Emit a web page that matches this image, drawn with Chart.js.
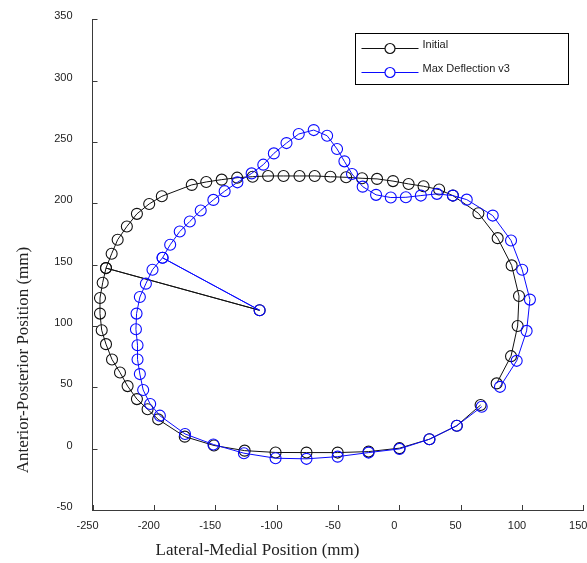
<!DOCTYPE html>
<html>
<head>
<meta charset="utf-8">
<script src="https://cdn.jsdelivr.net/npm/chart.js@4/dist/chart.umd.min.js"></script>
<style>
  html, body { margin: 0; padding: 0; background: #fff; }
  #wrap { width: 587px; height: 563px; position: relative; }
</style>
</head>
<body>
<div id="wrap"><canvas id="c" width="587" height="563"></canvas></div>
<script>
// Trace of the initial position (mm); the trace visits the centre point and returns
const initialX = [66.3, 46.9, 24.6, 0.2, -25.0, -50.2, -75.6, -100.8, -126.0, -151.0, -174.8, -196.5, -205.1, -213.8,
  -221.4, -227.6, -234.1, -239.0, -242.5, -243.9, -243.9, -241.7, -239.0, -113.8, -239.0, -234.4, -229.5, -222.0,
  -213.8, -203.8, -193.5, -169.1, -157.3, -144.7, -132.1, -119.5, -106.9, -94.3, -81.3, -68.9, -56.1, -43.3, -30.3,
  -18.1, -5.1, 7.6, 19.8, 32.5, 43.7, 64.5, 80.2, 91.6, 97.6, 96.5, 91.1, 79.4];
const initialY = [35.6, 18.7, 7.7, 0.4, -2.4, -3.2, -3.2, -3.1, -1.6, 2.6, 9.8, 23.9, 32.1, 40.4,
  51.0, 62.1, 72.7, 85.2, 96.5, 110.1, 122.8, 135.3, 147.2, 112.8, 147.2, 158.9, 170.3, 181.1,
  191.4, 199.5, 205.7, 215.0, 217.4, 219.3, 220.9, 221.7, 222.3, 222.3, 222.3, 222.3, 221.7, 221.2, 220.4,
  219.9, 218.1, 215.8, 213.9, 211.2, 206.3, 191.9, 171.6, 149.4, 124.4, 100.0, 75.4, 53.2];

// Trace at maximum deflection (mm)
const deflX = [67.2, 46.9, 24.6, 0.2, -25.0, -50.2, -75.6, -100.8, -126.6, -151.5, -174.6, -195.1, -203.0, -208.7,
  -211.4, -213.3, -213.3, -214.6, -214.1, -211.4, -206.5, -201.1, -192.9, -113.8, -192.9, -186.7, -178.9, -170.7,
  -161.8, -151.5, -142.3, -131.9, -120.3, -110.8, -102.2, -91.9, -81.9, -69.7, -58.8, -50.7, -44.7, -38.5, -29.8,
  -18.9, -6.9, 5.4, 17.6, 30.7, 43.7, 55.0, 76.2, 91.1, 100.2, 106.5, 103.8, 95.7, 82.1];
const deflY = [34.2, 18.7, 7.7, -0.2, -3.2, -6.5, -8.3, -7.8, -3.7, 3.4, 12.0, 26.9, 36.4, 47.8,
  60.8, 72.7, 84.3, 97.3, 110.1, 123.6, 134.5, 145.9, 155.6, 112.8, 155.6, 166.2, 177.0, 185.2,
  194.1, 202.8, 209.9, 217.1, 224.4, 231.5, 240.7, 249.1, 256.5, 259.7, 255.1, 244.3, 234.2, 223.9, 213.6,
  206.9, 204.7, 204.9, 206.3, 207.7, 206.3, 203.0, 190.0, 169.7, 145.9, 121.5, 96.0, 71.6, 50.4];

const seriesNames = ['Initial', 'Max Deflection v3'];
const xTicks = [-250, -200, -150, -100, -50, 0, 50, 100, 150];
const yTicks = [-50, 0, 50, 100, 150, 200, 250, 300, 350];
const xTitle = 'Lateral-Medial Position (mm)';
const yTitle = 'Anterior-Posterior Position (mm)';

const toPoints = (xs, ys) => xs.map((x, i) => ({ x: x, y: ys[i] }));

const AXIS_COLOR = '#3a3a3a';
const TEXT_COLOR = '#222';
const BLACK = '#111';
const BLUE = '#0a0aff';

// Inward tick marks, axis titles and the boxed legend
const decorations = {
  id: 'decorations',
  afterDraw(chart) {
    const ctx = chart.ctx;
    const a = chart.chartArea;
    const sx = chart.scales.x, sy = chart.scales.y;
    ctx.save();
    ctx.strokeStyle = AXIS_COLOR;
    ctx.lineWidth = 1;
    ctx.beginPath();
    xTicks.forEach(v => {
      const px = Math.round(sx.getPixelForValue(v)) + 0.5;
      ctx.moveTo(px, a.bottom);
      ctx.lineTo(px, a.bottom - 5);
    });
    yTicks.forEach(v => {
      const py = Math.round(sy.getPixelForValue(v)) + 0.5;
      ctx.moveTo(a.left, py);
      ctx.lineTo(a.left + 5, py);
    });
    ctx.stroke();

    // axis titles
    ctx.fillStyle = TEXT_COLOR;
    ctx.font = '17px "Liberation Serif", "Times New Roman", serif';
    ctx.textAlign = 'center';
    ctx.textBaseline = 'middle';
    ctx.fillText(xTitle, a.left + 165, 551);
    ctx.save();
    ctx.translate(24, 360);
    ctx.rotate(-Math.PI / 2);
    ctx.fillText(yTitle, 0, 0);
    ctx.restore();

    // legend
    const bx = Math.round(a.right) - 228 + 0.5;
    const by = Math.round(a.top) + 14 + 0.5;
    ctx.strokeStyle = '#000';
    ctx.lineWidth = 1;
    ctx.strokeRect(bx, by, 213, 51);
    const rows = [15, 39];
    chart.data.datasets.forEach((ds, i) => {
      const ly = by + rows[i];
      ctx.strokeStyle = ds.borderColor;
      ctx.lineWidth = 1;
      ctx.beginPath();
      ctx.moveTo(bx + 6, ly);
      ctx.lineTo(bx + 63, ly);
      ctx.stroke();
      ctx.beginPath();
      ctx.fillStyle = '#fff';
      ctx.arc(bx + 34.5, ly, 5, 0, Math.PI * 2);
      ctx.fill();
      ctx.lineWidth = 1.2;
      ctx.stroke();
      ctx.fillStyle = TEXT_COLOR;
      ctx.font = '11px "Liberation Sans", Arial, sans-serif';
      ctx.textAlign = 'left';
      ctx.textBaseline = 'middle';
      ctx.fillText(seriesNames[i], bx + 67, ly - 4);
    });
    ctx.restore();
  }
};

new Chart(document.getElementById('c'), {
  type: 'scatter',
  data: {
    datasets: [
      {
        label: seriesNames[0],
        data: toPoints(initialX, initialY),
        showLine: true,
        borderColor: BLACK,
        borderWidth: 1,
        pointStyle: 'circle',
        pointRadius: 5.5,
        pointBorderWidth: 1.1,
        pointBorderColor: BLACK,
        pointBackgroundColor: 'rgba(0,0,0,0)',
        tension: 0,
        order: 1
      },
      {
        label: seriesNames[1],
        data: toPoints(deflX, deflY),
        showLine: true,
        borderColor: BLUE,
        borderWidth: 1,
        pointStyle: 'circle',
        pointRadius: 5.5,
        pointBorderWidth: 1.1,
        pointBorderColor: BLUE,
        pointBackgroundColor: 'rgba(0,0,0,0)',
        tension: 0,
        order: 0
      }
    ]
  },
  options: {
    responsive: false,
    animation: false,
    events: [],
    layout: { autoPadding: false, padding: { left: 0, right: 3.7, top: 19.3, bottom: 0 } },
    plugins: { legend: { display: false }, tooltip: { enabled: false } },
    scales: {
      x: {
        type: 'linear',
        min: -250, max: 150,
        afterFit(s) {
          s.height = 53;
          s.paddingLeft = 0; s.paddingRight = 0;
        },
        afterBuildTicks(s) { s.ticks = xTicks.map(v => ({ value: v })); },
        grid: { display: true, drawOnChartArea: false, drawTicks: false },
        border: { display: true, color: AXIS_COLOR, width: 1 },
        ticks: {
          padding: 9,
          labelOffset: -5,
          maxRotation: 0,
          color: TEXT_COLOR,
          font: { family: '"Liberation Sans", Arial, sans-serif', size: 11 }
        }
      },
      y: {
        type: 'linear',
        min: -50, max: 350,
        afterFit(s) {
          s.width = 92.5;
          s.paddingTop = 0; s.paddingBottom = 0;
        },
        afterBuildTicks(s) { s.ticks = yTicks.map(v => ({ value: v })); },
        grid: { display: true, drawOnChartArea: false, drawTicks: false },
        border: { display: true, color: AXIS_COLOR, width: 1 },
        ticks: {
          padding: 20,
          labelOffset: -3,
          color: TEXT_COLOR,
          font: { family: '"Liberation Sans", Arial, sans-serif', size: 11 }
        }
      }
    }
  },
  plugins: [decorations]
});
</script>
</body>
</html>
